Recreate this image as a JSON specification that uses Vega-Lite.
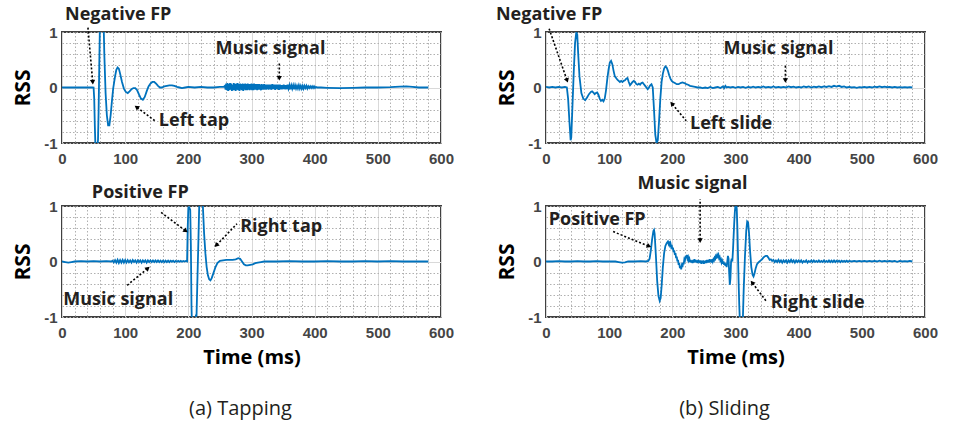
{
"$schema": "https://vega.github.io/schema/vega-lite/v6.json",
"padding": {"left": 11, "top": 4, "right": 0, "bottom": 5},
"background": "white",
"columns": 2,
"spacing": {"row": 63, "column": 105},
"bounds": "flush",
"datasets": {
"a1": [{"t":0,"v":0},{"t":10,"v":0},{"t":20,"v":0.003},{"t":30,"v":0},{"t":40,"v":0},{"t":48,"v":0.002},{"t":50,"v":0},{"t":51,"v":-0.2},{"t":52,"v":-0.7},{"t":53,"v":-1.1},{"t":55,"v":-1.15},{"t":57,"v":-0.95},{"t":58,"v":-0.4},{"t":59,"v":0.4},{"t":60,"v":1.1},{"t":62,"v":1.5},{"t":64,"v":1.5},{"t":66,"v":1.1},{"t":67,"v":0.6},{"t":69,"v":-0.1},{"t":71,"v":-0.5},{"t":73,"v":-0.68},{"t":75,"v":-0.68},{"t":77,"v":-0.5},{"t":79,"v":-0.25},{"t":81,"v":-0.02},{"t":84,"v":0.2},{"t":86,"v":0.32},{"t":88,"v":0.36},{"t":90,"v":0.34},{"t":92,"v":0.25},{"t":95,"v":0.1},{"t":98,"v":-0.02},{"t":101,"v":-0.08},{"t":104,"v":-0.1},{"t":107,"v":-0.07},{"t":110,"v":-0.03},{"t":113,"v":-0.01},{"t":116,"v":-0.01},{"t":119,"v":-0.05},{"t":122,"v":-0.13},{"t":125,"v":-0.2},{"t":128,"v":-0.22},{"t":131,"v":-0.17},{"t":134,"v":-0.07},{"t":137,"v":0.02},{"t":140,"v":0.07},{"t":143,"v":0.1},{"t":146,"v":0.1},{"t":149,"v":0.07},{"t":152,"v":0.03},{"t":155,"v":0},{"t":158,"v":0},{"t":162,"v":0.02},{"t":166,"v":0.03},{"t":170,"v":0.04},{"t":174,"v":0.04},{"t":178,"v":0.03},{"t":182,"v":0.01},{"t":186,"v":0},{"t":190,"v":-0.01},{"t":195,"v":0},{"t":200,"v":0.01},{"t":210,"v":0},{"t":220,"v":0.01},{"t":230,"v":0},{"t":240,"v":0},{"t":250,"v":0.01},{"t":256,"v":0.01},
{"t":258,"v":0.03},{"t":259,"v":-0.04},{"t":260,"v":0.07},{"t":261,"v":-0.05},{"t":262,"v":0.08},{"t":263,"v":-0.06},{"t":264,"v":0.06},{"t":265,"v":-0.05},{"t":266,"v":0.08},{"t":267,"v":-0.04},{"t":268,"v":0.07},{"t":269,"v":-0.06},{"t":270,"v":0.05},{"t":271,"v":-0.05},{"t":272,"v":0.08},{"t":273,"v":-0.05},{"t":274,"v":0.06},{"t":275,"v":-0.06},{"t":276,"v":0.07},{"t":277,"v":-0.04},{"t":278,"v":0.08},{"t":279,"v":-0.05},{"t":280,"v":0.06},{"t":281,"v":-0.06},{"t":282,"v":0.07},{"t":283,"v":-0.04},{"t":284,"v":0.06},{"t":285,"v":-0.05},{"t":286,"v":0.07},{"t":287,"v":-0.06},{"t":288,"v":0.06},{"t":289,"v":-0.04},{"t":290,"v":0.07},{"t":291,"v":-0.05},{"t":292,"v":0.06},{"t":293,"v":-0.05},{"t":294,"v":0.07},{"t":295,"v":-0.04},{"t":296,"v":0.06},{"t":297,"v":-0.05},{"t":298,"v":0.06},{"t":299,"v":-0.04},{"t":300,"v":0.07},{"t":301,"v":-0.05},{"t":302,"v":0.06},{"t":303,"v":-0.05},{"t":304,"v":0.07},{"t":305,"v":-0.04},{"t":306,"v":0.06},{"t":307,"v":-0.04},{"t":308,"v":0.06},{"t":309,"v":-0.05},{"t":310,"v":0.06},{"t":311,"v":-0.04},{"t":312,"v":0.06},{"t":313,"v":-0.04},{"t":314,"v":0.05},{"t":315,"v":-0.05},{"t":316,"v":0.06},{"t":317,"v":-0.04},{"t":318,"v":0.05},{"t":319,"v":-0.04},{"t":320,"v":0.06},{"t":321,"v":-0.03},{"t":322,"v":0.05},{"t":323,"v":-0.04},{"t":324,"v":0.05},{"t":325,"v":-0.03},{"t":326,"v":0.05},{"t":327,"v":-0.04},{"t":328,"v":0.05},{"t":329,"v":-0.03},{"t":330,"v":0.05},{"t":331.5,"v":-0.04},{"t":333,"v":0.06},{"t":334.5,"v":-0.03},{"t":336,"v":0.05},{"t":337.5,"v":-0.04},{"t":339,"v":0.05},{"t":340.5,"v":-0.03},{"t":342,"v":0.05},{"t":343.5,"v":-0.04},{"t":345,"v":0.05},{"t":346.5,"v":-0.03},{"t":348,"v":0.04},{"t":349.5,"v":-0.03},{"t":351,"v":0.05},{"t":352.5,"v":-0.03},{"t":354,"v":0.04},{"t":355.5,"v":-0.03},{"t":357,"v":0.05},{"t":358.5,"v":-0.02},{"t":360,"v":0.04},{"t":361.5,"v":-0.03},{"t":363,"v":0.04},{"t":364.5,"v":-0.02},{"t":366,"v":0.04},{"t":367.5,"v":-0.03},{"t":369,"v":0.04},{"t":370.5,"v":-0.02},{"t":372,"v":0.03},{"t":373.5,"v":-0.02},{"t":375,"v":0.04},{"t":376.5,"v":-0.02},{"t":378,"v":0.03},{"t":379.5,"v":-0.02},{"t":381,"v":0.03},{"t":382.5,"v":-0.02},{"t":384,"v":0.03},{"t":385.5,"v":-0.01},{"t":387,"v":0.03},{"t":388.5,"v":-0.02},{"t":390,"v":0.02},{"t":391.5,"v":-0.01},{"t":393,"v":0.02},{"t":394.5,"v":-0.01},{"t":396,"v":0.02},{"t":397.5,"v":-0.01},{"t":399,"v":0.02},{"t":400.5,"v":-0.01},{"t":402,"v":0.01},{"t":404,"v":0},
{"t":410,"v":0},{"t":420,"v":-0.005},{"t":440,"v":-0.01},{"t":460,"v":-0.005},{"t":480,"v":0},{"t":500,"v":0},{"t":520,"v":0.005},{"t":535,"v":0.015},{"t":545,"v":0.02},{"t":555,"v":0.01},{"t":565,"v":0},{"t":580,"v":0}],
"a2": [{"t":0,"v":0},{"t":5,"v":-0.01},{"t":10,"v":-0.02},{"t":15,"v":-0.01},{"t":20,"v":0},{"t":30,"v":0.005},{"t":40,"v":0},{"t":50,"v":0.005},{"t":60,"v":0},{"t":70,"v":0.005},{"t":78,"v":0},
{"t":80,"v":0.015},{"t":82,"v":-0.015},{"t":84,"v":0.025},{"t":86,"v":-0.02},{"t":88,"v":0.03},{"t":90,"v":-0.025},{"t":92,"v":0.025},{"t":94,"v":-0.02},{"t":96,"v":0.03},{"t":98,"v":-0.02},{"t":100,"v":0.025},{"t":102,"v":-0.02},{"t":104,"v":0.025},{"t":106,"v":-0.015},{"t":108,"v":0.02},{"t":110,"v":-0.02},{"t":112,"v":0.025},{"t":114,"v":-0.01},{"t":116,"v":0.02},{"t":118,"v":-0.02},{"t":120,"v":0.02},{"t":122,"v":-0.01},{"t":124,"v":0.02},{"t":126,"v":-0.02},{"t":128,"v":0.02},{"t":130,"v":-0.01},{"t":132,"v":0.02},{"t":134,"v":-0.02},{"t":136,"v":0.02},{"t":138,"v":-0.01},{"t":140,"v":0.02},{"t":142,"v":-0.01},{"t":144,"v":0.02},{"t":146,"v":-0.01},{"t":148,"v":0.02},{"t":150,"v":-0.01},{"t":152,"v":0.02},{"t":154,"v":-0.01},{"t":156,"v":0.015},{"t":158,"v":-0.01},{"t":160,"v":0.015},{"t":162,"v":-0.01},{"t":164,"v":0.015},{"t":166,"v":-0.01},{"t":168,"v":0.015},{"t":170,"v":-0.01},{"t":172,"v":0.015},{"t":174,"v":-0.005},{"t":176,"v":0.015},{"t":178,"v":-0.01},{"t":180,"v":0.01},{"t":182,"v":-0.005},{"t":184,"v":0.01},{"t":186,"v":-0.005},{"t":188,"v":0.01},{"t":190,"v":-0.005},{"t":192,"v":0.01},{"t":194,"v":0},{"t":196,"v":0.01},{"t":198,"v":0},
{"t":199,"v":0.6},{"t":200,"v":0.97},{"t":201,"v":0.98},{"t":202,"v":0.96},{"t":203,"v":0.93},{"t":204,"v":0.3},{"t":205,"v":-0.8},{"t":206,"v":-1.3},{"t":208,"v":-1.5},{"t":210,"v":-1.4},{"t":211,"v":-1.1},{"t":212,"v":-0.97},{"t":213,"v":-0.97},{"t":214,"v":-0.5},{"t":216,"v":0.4},{"t":217,"v":0.9},{"t":218,"v":1.3},{"t":220,"v":1.6},{"t":222,"v":1.4},{"t":223,"v":1},{"t":225,"v":0.5},{"t":227,"v":0.15},{"t":229,"v":-0.1},{"t":231,"v":-0.25},{"t":233,"v":-0.32},{"t":235,"v":-0.34},{"t":237,"v":-0.3},{"t":240,"v":-0.2},{"t":243,"v":-0.1},{"t":246,"v":-0.03},{"t":250,"v":0.01},{"t":255,"v":0.02},{"t":260,"v":0.03},{"t":265,"v":0.03},{"t":270,"v":0.03},{"t":275,"v":0.04},{"t":279,"v":0.06},{"t":282,"v":0.05},{"t":285,"v":0},{"t":288,"v":-0.05},{"t":291,"v":-0.07},{"t":294,"v":-0.07},{"t":298,"v":-0.06},{"t":302,"v":-0.05},{"t":306,"v":-0.03},{"t":310,"v":-0.02},{"t":315,"v":-0.01},{"t":320,"v":0},{"t":340,"v":0},{"t":360,"v":0.005},{"t":380,"v":0},{"t":400,"v":0},{"t":420,"v":0.005},{"t":440,"v":0},{"t":460,"v":0},{"t":480,"v":0.005},{"t":500,"v":0},{"t":520,"v":0.005},{"t":540,"v":0},{"t":560,"v":0},{"t":580,"v":0}],
"b1": [{"t":0,"v":0.01},{"t":5,"v":0},{"t":10,"v":0.01},{"t":15,"v":0},{"t":20,"v":0.01},{"t":25,"v":0},{"t":30,"v":0.01},{"t":33,"v":0},{"t":35,"v":-0.2},{"t":37,"v":-0.6},{"t":39,"v":-0.95},{"t":40,"v":-0.9},{"t":42,"v":-0.3},{"t":44,"v":0.3},{"t":46,"v":0.8},{"t":48,"v":1},{"t":49.5,"v":0.95},{"t":51,"v":0.6},{"t":53,"v":0.2},{"t":56,"v":-0.1},{"t":59,"v":-0.2},{"t":62,"v":-0.23},{"t":65,"v":-0.18},{"t":68,"v":-0.12},{"t":71,"v":-0.08},{"t":73,"v":-0.07},{"t":75,"v":-0.09},{"t":77,"v":-0.12},{"t":79,"v":-0.1},{"t":81,"v":-0.09},{"t":83,"v":-0.13},{"t":85,"v":-0.2},{"t":87,"v":-0.24},{"t":89,"v":-0.22},{"t":91,"v":-0.25},{"t":93,"v":-0.2},{"t":95,"v":-0.05},{"t":97,"v":0.15},{"t":99,"v":0.32},{"t":101,"v":0.45},{"t":103,"v":0.48},{"t":105,"v":0.42},{"t":107,"v":0.3},{"t":109,"v":0.2},{"t":111,"v":0.17},{"t":113,"v":0.14},{"t":115,"v":0.12},{"t":117,"v":0.1},{"t":119,"v":0.12},{"t":121,"v":0.1},{"t":123,"v":0.12},{"t":125,"v":0.13},{"t":127,"v":0.16},{"t":129,"v":0.17},{"t":131,"v":0.1},{"t":133,"v":0.04},{"t":135,"v":0.07},{"t":137,"v":0.1},{"t":139,"v":0.12},{"t":141,"v":0.1},{"t":143,"v":0.06},{"t":145,"v":0.05},{"t":147,"v":0.07},{"t":149,"v":0.05},{"t":151,"v":0.08},{"t":153,"v":0.09},{"t":155,"v":0.06},{"t":157,"v":0.03},{"t":159,"v":0},{"t":161,"v":-0.03},{"t":163,"v":0},{"t":165,"v":0.04},{"t":167,"v":0.06},{"t":169,"v":0},{"t":171,"v":-0.4},{"t":173,"v":-0.85},{"t":175,"v":-1},{"t":177,"v":-0.95},{"t":179,"v":-0.6},{"t":181,"v":-0.2},{"t":183,"v":0.1},{"t":185,"v":0.25},{"t":187,"v":0.34},{"t":189,"v":0.38},{"t":191,"v":0.36},{"t":193,"v":0.3},{"t":195,"v":0.22},{"t":197,"v":0.16},{"t":199,"v":0.12},{"t":201,"v":0.1},{"t":204,"v":0.08},{"t":207,"v":0.06},{"t":210,"v":0.06},{"t":213,"v":0.08},{"t":216,"v":0.09},{"t":219,"v":0.08},{"t":222,"v":0.06},{"t":225,"v":0.05},{"t":228,"v":0.03},{"t":232,"v":0.02},{"t":236,"v":0.01},{"t":240,"v":0},{"t":244,"v":0},{"t":248,"v":-0.01},{"t":252,"v":0},{"t":256,"v":-0.01},{"t":260,"v":0.01},{"t":264,"v":-0.01},{"t":268,"v":0},{"t":272,"v":0.01},{"t":276,"v":-0.01},{"t":280,"v":0.02},{"t":282,"v":-0.01},{"t":284,"v":0.03},{"t":286,"v":0},{"t":288,"v":0.01},{"t":292,"v":0},{"t":296,"v":0.01},{"t":300,"v":-0.005},{"t":304,"v":0.01},{"t":308,"v":0},{"t":312,"v":0.01},{"t":316,"v":-0.005},{"t":320,"v":0.01},{"t":324,"v":0},{"t":328,"v":0.015},{"t":332,"v":0},{"t":336,"v":0.01},{"t":340,"v":0},{"t":344,"v":0.02},{"t":348,"v":0},{"t":352,"v":0.01},{"t":356,"v":0},{"t":360,"v":0.02},{"t":364,"v":0},{"t":368,"v":0.01},{"t":372,"v":0},{"t":376,"v":0.01},{"t":380,"v":0},{"t":384,"v":0.02},{"t":388,"v":0.005},{"t":392,"v":0.015},{"t":396,"v":0},{"t":400,"v":0.01},{"t":404,"v":0},{"t":408,"v":0.02},{"t":412,"v":0.005},{"t":416,"v":0.02},{"t":420,"v":0},{"t":424,"v":0.015},{"t":428,"v":0.005},{"t":432,"v":0.02},{"t":436,"v":0.005},{"t":440,"v":0.02},{"t":444,"v":0.01},{"t":448,"v":0.025},{"t":452,"v":0.01},{"t":456,"v":0.03},{"t":460,"v":0.015},{"t":464,"v":0.03},{"t":468,"v":0.01},{"t":472,"v":0.02},{"t":476,"v":0},{"t":480,"v":0.01},{"t":484,"v":0},{"t":488,"v":0.005},{"t":492,"v":-0.005},{"t":496,"v":0.005},{"t":500,"v":0},{"t":504,"v":0.01},{"t":508,"v":0},{"t":512,"v":0.01},{"t":516,"v":0},{"t":520,"v":0.015},{"t":524,"v":0.005},{"t":528,"v":0.02},{"t":532,"v":0.005},{"t":536,"v":0.015},{"t":540,"v":0.005},{"t":544,"v":0.01},{"t":548,"v":0},{"t":552,"v":0.01},{"t":556,"v":0},{"t":560,"v":0.005},{"t":564,"v":0},{"t":568,"v":0.005},{"t":572,"v":0},{"t":576,"v":0.005},{"t":580,"v":0}],
"b2": [{"t":0,"v":0},{"t":10,"v":0},{"t":20,"v":0.005},{"t":30,"v":0},{"t":40,"v":0},{"t":50,"v":0.005},{"t":60,"v":0},{"t":70,"v":0},{"t":80,"v":0.005},{"t":90,"v":0},{"t":100,"v":0},{"t":110,"v":0},{"t":115,"v":-0.01},{"t":120,"v":-0.02},{"t":125,"v":-0.015},{"t":130,"v":0},{"t":140,"v":0},{"t":150,"v":0.005},{"t":158,"v":0},{"t":162,"v":0.01},{"t":164,"v":0.05},{"t":166,"v":0.2},{"t":168,"v":0.4},{"t":170,"v":0.55},{"t":171,"v":0.57},{"t":172,"v":0.5},{"t":174,"v":0.1},{"t":176,"v":-0.35},{"t":178,"v":-0.62},{"t":180,"v":-0.71},{"t":181.5,"v":-0.66},{"t":183,"v":-0.45},{"t":185,"v":-0.1},{"t":187,"v":0.15},{"t":189,"v":0.28},{"t":191,"v":0.33},{"t":193,"v":0.36},{"t":194,"v":0.32},{"t":195,"v":0.36},{"t":196,"v":0.3},{"t":197,"v":0.33},{"t":198,"v":0.27},{"t":199,"v":0.3},{"t":200,"v":0.22},{"t":201,"v":0.25},{"t":202,"v":0.17},{"t":203,"v":0.2},{"t":204,"v":0.12},{"t":205,"v":0.15},{"t":206,"v":0.06},{"t":207,"v":0.09},{"t":208,"v":0},{"t":209,"v":0.03},{"t":210,"v":-0.06},{"t":211,"v":-0.03},{"t":212,"v":-0.12},{"t":213,"v":-0.08},{"t":214,"v":-0.14},{"t":215,"v":-0.07},{"t":216,"v":-0.1},{"t":217,"v":-0.02},{"t":218,"v":-0.05},{"t":219,"v":0.04},{"t":220,"v":0.02},{"t":221,"v":0.1},{"t":222,"v":0.06},{"t":223,"v":0.12},{"t":224,"v":0.05},{"t":225,"v":0.08},{"t":226,"v":0.02},{"t":227,"v":0.05},{"t":228,"v":-0.01},{"t":229,"v":0.03},{"t":230,"v":-0.02},{"t":231,"v":0.02},{"t":232,"v":-0.03},{"t":233,"v":0.03},{"t":234,"v":-0.02},{"t":235,"v":0.04},{"t":236,"v":-0.01},{"t":237,"v":0.03},{"t":238,"v":-0.02},{"t":239,"v":0.02},{"t":240,"v":-0.03},{"t":241,"v":0.03},{"t":242,"v":-0.02},{"t":243,"v":0.02},{"t":244,"v":-0.03},{"t":245,"v":0.02},{"t":246,"v":-0.04},{"t":247,"v":0.01},{"t":248,"v":-0.03},{"t":249,"v":0.02},{"t":250,"v":-0.04},{"t":251,"v":0.01},{"t":252,"v":-0.03},{"t":253,"v":0.02},{"t":254,"v":-0.03},{"t":255,"v":0.03},{"t":256,"v":-0.02},{"t":257,"v":0.03},{"t":258,"v":-0.02},{"t":259,"v":0.04},{"t":260,"v":-0.01},{"t":261,"v":0.03},{"t":262,"v":-0.02},{"t":263,"v":0.04},{"t":264,"v":0},{"t":265,"v":0.04},{"t":266,"v":0.02},{"t":267,"v":0.07},{"t":268,"v":0.05},{"t":269,"v":0.1},{"t":270,"v":0.08},{"t":271,"v":0.12},{"t":272,"v":0.09},{"t":273,"v":0.12},{"t":274,"v":0.06},{"t":275,"v":0.08},{"t":276,"v":0.02},{"t":277,"v":0.04},{"t":278,"v":-0.02},{"t":279,"v":0.01},{"t":280,"v":-0.04},{"t":281,"v":0},{"t":282,"v":-0.06},{"t":283,"v":-0.02},{"t":284,"v":-0.08},{"t":285,"v":-0.04},{"t":286,"v":-0.1},{"t":287,"v":0},{"t":288,"v":0.1},{"t":289,"v":0.05},{"t":290,"v":-0.2},{"t":291,"v":-0.42},{"t":292,"v":-0.3},{"t":293,"v":0},{"t":294,"v":0.05},{"t":295,"v":0},{"t":296,"v":0.2},{"t":297,"v":0.45},{"t":298,"v":0.7},{"t":299,"v":0.9},{"t":300,"v":1.02},{"t":301,"v":1.05},{"t":302,"v":0.95},{"t":303,"v":0.6},{"t":304,"v":0.1},{"t":305,"v":-0.4},{"t":306,"v":-0.8},{"t":307,"v":-1.1},{"t":308,"v":-1.25},{"t":310,"v":-1.3},{"t":311.5,"v":-1.1},{"t":313,"v":-0.5},{"t":315,"v":0.1},{"t":317,"v":0.55},{"t":318.5,"v":0.72},{"t":320,"v":0.7},{"t":321.5,"v":0.5},{"t":323,"v":0.2},{"t":325,"v":-0.1},{"t":327,"v":-0.24},{"t":328.5,"v":-0.27},{"t":330,"v":-0.22},{"t":332,"v":-0.12},{"t":334,"v":-0.05},{"t":336,"v":-0.02},{"t":338,"v":0},{"t":340,"v":0.02},{"t":342,"v":0.04},{"t":344,"v":0.07},{"t":346,"v":0.09},{"t":348,"v":0.1},{"t":350,"v":0.1},{"t":352,"v":0.07},{"t":354,"v":0.03},{"t":356,"v":0.04},{"t":358,"v":0.01},{"t":360,"v":0.03},{"t":362,"v":-0.01},{"t":364,"v":0.02},{"t":366,"v":-0.01},{"t":368,"v":0.03},{"t":370,"v":-0.01},{"t":372,"v":0.02},{"t":374,"v":-0.02},{"t":376,"v":0.02},{"t":378,"v":-0.01},{"t":380,"v":0.02},{"t":382,"v":-0.02},{"t":384,"v":0.02},{"t":386,"v":-0.01},{"t":388,"v":0.03},{"t":390,"v":-0.01},{"t":392,"v":0.02},{"t":394,"v":-0.02},{"t":396,"v":0.02},{"t":398,"v":-0.01},{"t":400,"v":0.02},{"t":402,"v":-0.01},{"t":404,"v":0.02},{"t":406,"v":-0.02},{"t":408,"v":0.01},{"t":410,"v":-0.01},{"t":412,"v":0.02},{"t":414,"v":-0.02},{"t":416,"v":0.01},{"t":418,"v":-0.01},{"t":420,"v":0.02},{"t":422,"v":-0.01},{"t":424,"v":0.02},{"t":426,"v":-0.01},{"t":428,"v":0.01},{"t":430,"v":-0.01},{"t":432,"v":0.02},{"t":434,"v":-0.01},{"t":436,"v":0.01},{"t":438,"v":-0.01},{"t":440,"v":0.02},{"t":442,"v":-0.01},{"t":444,"v":0.01},{"t":446,"v":-0.01},{"t":448,"v":0.02},{"t":450,"v":-0.01},{"t":452,"v":0.015},{"t":454,"v":-0.01},{"t":456,"v":0.02},{"t":458,"v":-0.01},{"t":460,"v":0.015},{"t":462,"v":-0.005},{"t":464,"v":0.015},{"t":466,"v":-0.01},{"t":468,"v":0.015},{"t":470,"v":-0.005},{"t":472,"v":0.01},{"t":474,"v":-0.005},{"t":476,"v":0.015},{"t":478,"v":-0.005},{"t":480,"v":0.01},{"t":484,"v":0},{"t":488,"v":0.01},{"t":492,"v":0},{"t":496,"v":0.01},{"t":500,"v":0},{"t":504,"v":0.01},{"t":508,"v":0},{"t":512,"v":0.01},{"t":516,"v":0},{"t":520,"v":0.01},{"t":524,"v":0},{"t":528,"v":0.015},{"t":532,"v":0},{"t":536,"v":0.01},{"t":540,"v":0},{"t":544,"v":0.01},{"t":548,"v":0},{"t":552,"v":0.01},{"t":556,"v":-0.005},{"t":560,"v":0.01},{"t":564,"v":0},{"t":568,"v":0.005},{"t":572,"v":0},{"t":576,"v":0.01},{"t":580,"v":0}]
},
"concat": [
{"width":379,"height":111,
 "encoding":{
  "x":{"field":"t","type":"quantitative","scale":{"domain":[0,600],"nice":false,"zero":false},"axis":{"values":[0,20,40,60,80,100,120,140,160,180,200,220,240,260,280,300,320,340,360,380,400,420,440,460,480,500,520,540,560,580,600],"labelExpr":"datum.value % 100 === 0 ? '' + datum.value : ''","gridDash":{"condition":{"test":"datum.value % 100 === 0","value":[]},"value":[1.5,2]},"gridColor":{"condition":{"test":"datum.value % 100 === 0","value":"#d9d9d9"},"value":"#b0b0b0"},"title":null}},
  "y":{"field":"v","type":"quantitative","scale":{"domain":[-1,1],"nice":false,"zero":false},"axis":{"values":[-1,-0.8,-0.6,-0.4,-0.2,0,0.2,0.4,0.6,0.8,1],"labelExpr":"datum.value === 1 ? '1' : datum.value === 0 ? '0' : datum.value === -1 ? '-1' : ''","gridDash":{"condition":{"test":"datum.value === 0","value":[]},"value":[1.5,2]},"gridColor":{"condition":{"test":"datum.value === 0","value":"#d9d9d9"},"value":"#b0b0b0"},"title":"RSS"}}},
 "layer":[
  {"data":{"name":"a1"},"mark":{"type":"line","clip":true,"color":"#0072BD","strokeWidth":1.8}},
  {"data":{"values":[{"t":89,"v":1.3,"label":"Negative FP"},{"t":330,"v":0.7,"label":"Music signal"},{"t":209,"v":-0.61,"label":"Left tap"}]},"mark":{"type":"text","font":"Open Sans","fontWeight":"bold","fontSize":18,"color":"#231f20","align":"center","baseline":"middle"},"encoding":{"text":{"field":"label"}}},
  {"data":{"values":[{"t":48.5,"v":0.11,"t0":41,"v0":1.09},{"t":344,"v":0.18,"t0":344,"v0":0.44},{"t":119,"v":-0.36,"t0":147,"v0":-0.6}]},"mark":{"type":"rule","color":"#000000","strokeWidth":1.6,"strokeDash":[2,2]},"encoding":{"x2":{"field":"t0"},"y2":{"field":"v0"}}},
  {"data":{"values":[{"t":48.5,"v":0.11,"t0":41,"v0":1.09},{"t":344,"v":0.18,"t0":344,"v0":0.44},{"t":119,"v":-0.36,"t0":147,"v0":-0.6}]},"transform":[{"calculate":"atan2((datum.t-datum.t0)*379/600,(datum.v-datum.v0)*111/2)*180/PI","as":"ang"}],"mark":{"type":"point","shape":"triangle","filled":true,"color":"#000000","size":28,"opacity":1},"encoding":{"angle":{"field":"ang","type":"quantitative","scale":null}}}
 ]},
{"width":379,"height":111,
 "encoding":{
  "x":{"field":"t","type":"quantitative","scale":{"domain":[0,600],"nice":false,"zero":false},"axis":{"values":[0,20,40,60,80,100,120,140,160,180,200,220,240,260,280,300,320,340,360,380,400,420,440,460,480,500,520,540,560,580,600],"labelExpr":"datum.value % 100 === 0 ? '' + datum.value : ''","gridDash":{"condition":{"test":"datum.value % 100 === 0","value":[]},"value":[1.5,2]},"gridColor":{"condition":{"test":"datum.value % 100 === 0","value":"#d9d9d9"},"value":"#b0b0b0"},"title":null}},
  "y":{"field":"v","type":"quantitative","scale":{"domain":[-1,1],"nice":false,"zero":false},"axis":{"values":[-1,-0.8,-0.6,-0.4,-0.2,0,0.2,0.4,0.6,0.8,1],"labelExpr":"datum.value === 1 ? '1' : datum.value === 0 ? '0' : datum.value === -1 ? '-1' : ''","gridDash":{"condition":{"test":"datum.value === 0","value":[]},"value":[1.5,2]},"gridColor":{"condition":{"test":"datum.value === 0","value":"#d9d9d9"},"value":"#b0b0b0"},"title":"RSS"}}},
 "layer":[
  {"data":{"name":"b1"},"mark":{"type":"line","clip":true,"color":"#0072BD","strokeWidth":1.8}},
  {"data":{"values":[{"t":5,"v":1.31,"label":"Negative FP"},{"t":368,"v":0.69,"label":"Music signal"},{"t":293,"v":-0.66,"label":"Left slide"}]},"mark":{"type":"text","font":"Open Sans","fontWeight":"bold","fontSize":18,"color":"#231f20","align":"center","baseline":"middle"},"encoding":{"text":{"field":"label"}}},
  {"data":{"values":[{"t":33,"v":0.14,"t0":4,"v0":1.09},{"t":379,"v":0.14,"t0":379,"v0":0.4},{"t":200,"v":-0.3,"t0":222,"v0":-0.6}]},"mark":{"type":"rule","color":"#000000","strokeWidth":1.6,"strokeDash":[2,2]},"encoding":{"x2":{"field":"t0"},"y2":{"field":"v0"}}},
  {"data":{"values":[{"t":33,"v":0.14,"t0":4,"v0":1.09},{"t":379,"v":0.14,"t0":379,"v0":0.4},{"t":200,"v":-0.3,"t0":222,"v0":-0.6}]},"transform":[{"calculate":"atan2((datum.t-datum.t0)*379/600,(datum.v-datum.v0)*111/2)*180/PI","as":"ang"}],"mark":{"type":"point","shape":"triangle","filled":true,"color":"#000000","size":28,"opacity":1},"encoding":{"angle":{"field":"ang","type":"quantitative","scale":null}}}
 ]},
{"width":379,"height":111,
 "encoding":{
  "x":{"field":"t","type":"quantitative","scale":{"domain":[0,600],"nice":false,"zero":false},"axis":{"values":[0,20,40,60,80,100,120,140,160,180,200,220,240,260,280,300,320,340,360,380,400,420,440,460,480,500,520,540,560,580,600],"labelExpr":"datum.value % 100 === 0 ? '' + datum.value : ''","gridDash":{"condition":{"test":"datum.value % 100 === 0","value":[]},"value":[1.5,2]},"gridColor":{"condition":{"test":"datum.value % 100 === 0","value":"#d9d9d9"},"value":"#b0b0b0"},"title":"Time (ms)"}},
  "y":{"field":"v","type":"quantitative","scale":{"domain":[-1,1],"nice":false,"zero":false},"axis":{"values":[-1,-0.8,-0.6,-0.4,-0.2,0,0.2,0.4,0.6,0.8,1],"labelExpr":"datum.value === 1 ? '1' : datum.value === 0 ? '0' : datum.value === -1 ? '-1' : ''","gridDash":{"condition":{"test":"datum.value === 0","value":[]},"value":[1.5,2]},"gridColor":{"condition":{"test":"datum.value === 0","value":"#d9d9d9"},"value":"#b0b0b0"},"title":"RSS"}}},
 "layer":[
  {"data":{"name":"a2"},"mark":{"type":"line","clip":true,"color":"#0072BD","strokeWidth":1.8}},
  {"data":{"values":[{"t":124,"v":1.23,"label":"Positive FP"},{"t":347,"v":0.63,"label":"Right tap"},{"t":89,"v":-0.69,"label":"Music signal"}]},"mark":{"type":"text","font":"Open Sans","fontWeight":"bold","fontSize":18,"color":"#231f20","align":"center","baseline":"middle"},"encoding":{"text":{"field":"label"}}},
  {"data":{"values":[{"t":195,"v":0.56,"t0":155,"v0":0.9},{"t":245,"v":0.3,"t0":277,"v0":0.68},{"t":135,"v":-0.13,"t0":102,"v0":-0.44}]},"mark":{"type":"rule","color":"#000000","strokeWidth":1.6,"strokeDash":[2,2]},"encoding":{"x2":{"field":"t0"},"y2":{"field":"v0"}}},
  {"data":{"values":[{"t":195,"v":0.56,"t0":155,"v0":0.9},{"t":245,"v":0.3,"t0":277,"v0":0.68},{"t":135,"v":-0.13,"t0":102,"v0":-0.44}]},"transform":[{"calculate":"atan2((datum.t-datum.t0)*379/600,(datum.v-datum.v0)*111/2)*180/PI","as":"ang"}],"mark":{"type":"point","shape":"triangle","filled":true,"color":"#000000","size":28,"opacity":1},"encoding":{"angle":{"field":"ang","type":"quantitative","scale":null}}}
 ]},
{"width":379,"height":111,
 "encoding":{
  "x":{"field":"t","type":"quantitative","scale":{"domain":[0,600],"nice":false,"zero":false},"axis":{"values":[0,20,40,60,80,100,120,140,160,180,200,220,240,260,280,300,320,340,360,380,400,420,440,460,480,500,520,540,560,580,600],"labelExpr":"datum.value % 100 === 0 ? '' + datum.value : ''","gridDash":{"condition":{"test":"datum.value % 100 === 0","value":[]},"value":[1.5,2]},"gridColor":{"condition":{"test":"datum.value % 100 === 0","value":"#d9d9d9"},"value":"#b0b0b0"},"title":"Time (ms)"}},
  "y":{"field":"v","type":"quantitative","scale":{"domain":[-1,1],"nice":false,"zero":false},"axis":{"values":[-1,-0.8,-0.6,-0.4,-0.2,0,0.2,0.4,0.6,0.8,1],"labelExpr":"datum.value === 1 ? '1' : datum.value === 0 ? '0' : datum.value === -1 ? '-1' : ''","gridDash":{"condition":{"test":"datum.value === 0","value":[]},"value":[1.5,2]},"gridColor":{"condition":{"test":"datum.value === 0","value":"#d9d9d9"},"value":"#b0b0b0"},"title":"RSS"}}},
 "layer":[
  {"data":{"name":"b2"},"mark":{"type":"line","clip":true,"color":"#0072BD","strokeWidth":1.8}},
  {"data":{"values":[{"t":232,"v":1.4,"label":"Music signal"},{"t":81,"v":0.75,"label":"Positive FP"},{"t":430,"v":-0.75,"label":"Right slide"}]},"mark":{"type":"text","font":"Open Sans","fontWeight":"bold","fontSize":18,"color":"#231f20","align":"center","baseline":"middle"},"encoding":{"text":{"field":"label"}}},
  {"data":{"values":[{"t":244,"v":0.39,"t0":244,"v0":1.12},{"t":162,"v":0.28,"t0":106,"v0":0.54},{"t":327,"v":-0.39,"t0":349,"v0":-0.72}]},"mark":{"type":"rule","color":"#000000","strokeWidth":1.6,"strokeDash":[2,2]},"encoding":{"x2":{"field":"t0"},"y2":{"field":"v0"}}},
  {"data":{"values":[{"t":244,"v":0.39,"t0":244,"v0":1.12},{"t":162,"v":0.28,"t0":106,"v0":0.54},{"t":327,"v":-0.39,"t0":349,"v0":-0.72}]},"transform":[{"calculate":"atan2((datum.t-datum.t0)*379/600,(datum.v-datum.v0)*111/2)*180/PI","as":"ang"}],"mark":{"type":"point","shape":"triangle","filled":true,"color":"#000000","size":28,"opacity":1},"encoding":{"angle":{"field":"ang","type":"quantitative","scale":null}}}
 ]},
{"width":379,"height":20,"view":{"stroke":null},"data":{"values":[{"label":"(a) Tapping"}]},"mark":{"type":"text","font":"Open Sans","fontSize":20,"dx":-11,"dy":19,"color":"#231f20","align":"center","baseline":"middle"},"encoding":{"text":{"field":"label"}}},
{"width":379,"height":20,"view":{"stroke":null},"data":{"values":[{"label":"(b) Sliding"}]},"mark":{"type":"text","font":"Open Sans","fontSize":20,"dx":-11,"dy":19,"color":"#231f20","align":"center","baseline":"middle"},"encoding":{"text":{"field":"label"}}}
],
"config": {
 "view": {"stroke":"#404040","strokeWidth":2},
 "axis": {"domain":false,"ticks":false,"grid":true,"gridWidth":1,"labelFont":"Liberation Sans","labelFontWeight":"bold","labelFontSize":15,"labelColor":"#454545","labelFlush":false,"labelOverlap":false,"titleFont":"Open Sans","titleFontWeight":"bold","titleColor":"#000000"},
 "axisX": {"labelPadding":8,"titleFontSize":20,"titlePadding":7},
 "axisY": {"labelPadding":5,"titleFontSize":21,"titlePadding":10}
}
}
